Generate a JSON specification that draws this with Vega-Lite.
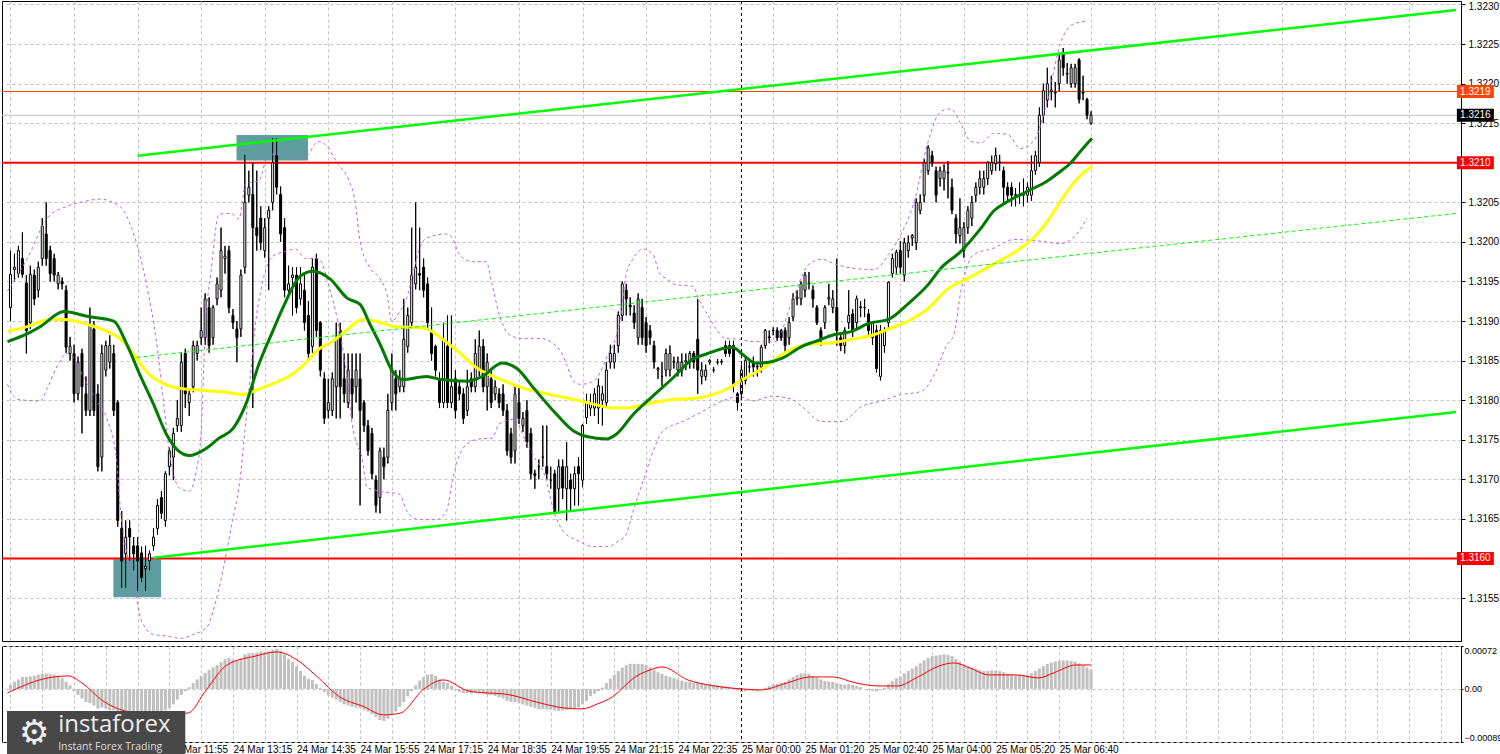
{
"$schema":"https://vega.github.io/schema/vega-lite/v6.json",
"padding":0,
"background":"white",
"spacing":3,
"config":{"view":{"stroke":"#000000","strokeWidth":1},"axis":{"labelFont":"Liberation Sans","labelFontSize":10,"labelColor":"#000000"}},
"datasets":{
"candles":[
{"i":0,"o":1.31917,"h":1.31989,"l":1.319,"c":1.31959,"m":0.00007},
{"i":1,"o":1.31965,"h":1.31985,"l":1.3195,"c":1.31968,"m":0.00012},
{"i":2,"o":1.3196,"h":1.31995,"l":1.31955,"c":1.31989,"m":0.00016},
{"i":3,"o":1.31979,"h":1.32012,"l":1.31955,"c":1.31959,"m":0.0002},
{"i":4,"o":1.31948,"h":1.31958,"l":1.31859,"c":1.31888,"m":0.0002},
{"i":5,"o":1.31898,"h":1.3197,"l":1.3189,"c":1.31959,"m":0.00021},
{"i":6,"o":1.31958,"h":1.31965,"l":1.3192,"c":1.31928,"m":0.00022},
{"i":7,"o":1.31939,"h":1.31975,"l":1.3193,"c":1.31968,"m":0.00024},
{"i":8,"o":1.31979,"h":1.3203,"l":1.3197,"c":1.3202,"m":0.00025},
{"i":9,"o":1.3201,"h":1.3205,"l":1.3197,"c":1.31979,"m":0.00026},
{"i":10,"o":1.31989,"h":1.31995,"l":1.3195,"c":1.3196,"m":0.00025},
{"i":11,"o":1.31979,"h":1.31985,"l":1.3195,"c":1.31958,"m":0.00024},
{"i":12,"o":1.31947,"h":1.31962,"l":1.3194,"c":1.31958,"m":0.00022},
{"i":13,"o":1.3195,"h":1.31955,"l":1.3194,"c":1.31947,"m":0.00018},
{"i":14,"o":1.31939,"h":1.31945,"l":1.3186,"c":1.31867,"m":0.00012},
{"i":15,"o":1.31859,"h":1.3188,"l":1.3185,"c":1.31868,"m":0.00006},
{"i":16,"o":1.31859,"h":1.3187,"l":1.31797,"c":1.31808,"m":-0.00004},
{"i":17,"o":1.31808,"h":1.31855,"l":1.318,"c":1.31848,"m":-0.0001},
{"i":18,"o":1.31859,"h":1.31865,"l":1.31758,"c":1.31817,"m":-0.00016},
{"i":19,"o":1.31808,"h":1.3183,"l":1.3178,"c":1.31787,"m":-0.00022},
{"i":20,"o":1.31787,"h":1.31917,"l":1.3178,"c":1.31896,"m":-0.00024},
{"i":21,"o":1.3189,"h":1.319,"l":1.3178,"c":1.31787,"m":-0.00028},
{"i":22,"o":1.31808,"h":1.3182,"l":1.3171,"c":1.31716,"m":-0.00033},
{"i":23,"o":1.31728,"h":1.3187,"l":1.3171,"c":1.31859,"m":-0.00031},
{"i":24,"o":1.31838,"h":1.31875,"l":1.3183,"c":1.31869,"m":-0.00033},
{"i":25,"o":1.31848,"h":1.31882,"l":1.3184,"c":1.31869,"m":-0.00036},
{"i":26,"o":1.31859,"h":1.3187,"l":1.3178,"c":1.31787,"m":-0.00036},
{"i":27,"o":1.31797,"h":1.318,"l":1.3164,"c":1.31648,"m":-0.0004},
{"i":28,"o":1.31638,"h":1.3166,"l":1.31563,"c":1.31597,"m":-0.00044},
{"i":29,"o":1.31606,"h":1.31648,"l":1.31563,"c":1.31627,"m":-0.00048},
{"i":30,"o":1.31638,"h":1.31648,"l":1.31597,"c":1.31627,"m":-0.0005},
{"i":31,"o":1.31616,"h":1.31627,"l":1.31585,"c":1.31606,"m":-0.00052},
{"i":32,"o":1.31616,"h":1.31627,"l":1.31559,"c":1.31597,"m":-0.00052},
{"i":33,"o":1.31607,"h":1.31615,"l":1.3157,"c":1.31576,"m":-0.00053},
{"i":34,"o":1.31587,"h":1.31616,"l":1.31559,"c":1.3159,"m":-0.00052},
{"i":35,"o":1.31597,"h":1.3161,"l":1.31585,"c":1.31606,"m":-0.0005},
{"i":36,"o":1.31616,"h":1.31638,"l":1.3161,"c":1.31627,"m":-0.00047},
{"i":37,"o":1.31638,"h":1.31675,"l":1.3163,"c":1.31667,"m":-0.00044},
{"i":38,"o":1.31677,"h":1.31685,"l":1.3165,"c":1.31657,"m":-0.0004},
{"i":39,"o":1.31648,"h":1.3171,"l":1.3164,"c":1.31707,"m":-0.00036},
{"i":40,"o":1.31716,"h":1.3174,"l":1.31705,"c":1.31736,"m":-0.00032},
{"i":41,"o":1.31728,"h":1.31765,"l":1.31699,"c":1.31758,"m":-0.00026},
{"i":42,"o":1.31768,"h":1.318,"l":1.3176,"c":1.31777,"m":-0.00018},
{"i":43,"o":1.31768,"h":1.3186,"l":1.3176,"c":1.31848,"m":-0.0001},
{"i":44,"o":1.31859,"h":1.31865,"l":1.3179,"c":1.31808,"m":-0.00004},
{"i":45,"o":1.31797,"h":1.31815,"l":1.3178,"c":1.31808,"m":0.00003},
{"i":46,"o":1.31817,"h":1.31875,"l":1.3181,"c":1.31869,"m":0.0001},
{"i":47,"o":1.31859,"h":1.31875,"l":1.3185,"c":1.31869,"m":0.00016},
{"i":48,"o":1.31879,"h":1.31917,"l":1.3187,"c":1.31888,"m":0.00022},
{"i":49,"o":1.31879,"h":1.31935,"l":1.3187,"c":1.31928,"m":0.00027},
{"i":50,"o":1.31917,"h":1.3193,"l":1.3186,"c":1.31869,"m":0.00032},
{"i":51,"o":1.31879,"h":1.3192,"l":1.3187,"c":1.31917,"m":0.00036},
{"i":52,"o":1.31928,"h":1.31955,"l":1.3192,"c":1.31947,"m":0.0004},
{"i":53,"o":1.31939,"h":1.32018,"l":1.3193,"c":1.31989,"m":0.00045},
{"i":54,"o":1.31979,"h":1.31995,"l":1.3196,"c":1.31982,"m":0.0005},
{"i":55,"o":1.31989,"h":1.31995,"l":1.3191,"c":1.31917,"m":0.00052},
{"i":56,"o":1.31907,"h":1.31915,"l":1.3189,"c":1.31898,"m":0.00049},
{"i":57,"o":1.3189,"h":1.319,"l":1.31848,"c":1.31879,"m":0.00047},
{"i":58,"o":1.3189,"h":1.31965,"l":1.3188,"c":1.31958,"m":0.00051},
{"i":59,"o":1.31968,"h":1.3211,"l":1.3196,"c":1.3205,"m":0.00058},
{"i":60,"o":1.32059,"h":1.3209,"l":1.3205,"c":1.32069,"m":0.0006},
{"i":61,"o":1.3206,"h":1.321,"l":1.3179,"c":1.32018,"m":0.0006},
{"i":62,"o":1.32018,"h":1.3209,"l":1.31989,"c":1.32008,"m":0.00061},
{"i":63,"o":1.3203,"h":1.32045,"l":1.3199,"c":1.31999,"m":0.00062},
{"i":64,"o":1.31989,"h":1.3203,"l":1.3198,"c":1.32018,"m":0.00062},
{"i":65,"o":1.3203,"h":1.32045,"l":1.31939,"c":1.3204,"m":0.00063},
{"i":66,"o":1.3205,"h":1.32131,"l":1.3204,"c":1.321,"m":0.00066},
{"i":67,"o":1.32109,"h":1.32131,"l":1.3206,"c":1.32069,"m":0.00067},
{"i":68,"o":1.3206,"h":1.3207,"l":1.32,"c":1.3201,"m":0.00064},
{"i":69,"o":1.32018,"h":1.3203,"l":1.3193,"c":1.31939,"m":0.00058},
{"i":70,"o":1.31939,"h":1.3197,"l":1.3193,"c":1.31947,"m":0.0005},
{"i":71,"o":1.31955,"h":1.31968,"l":1.31907,"c":1.31958,"m":0.00045},
{"i":72,"o":1.31958,"h":1.31968,"l":1.3191,"c":1.31917,"m":0.00038},
{"i":73,"o":1.31928,"h":1.31968,"l":1.3192,"c":1.31947,"m":0.0003},
{"i":74,"o":1.31939,"h":1.31958,"l":1.31888,"c":1.31898,"m":0.00022},
{"i":75,"o":1.31907,"h":1.31925,"l":1.3185,"c":1.31859,"m":0.00017},
{"i":76,"o":1.31868,"h":1.31979,"l":1.3186,"c":1.31968,"m":0.00015},
{"i":77,"o":1.31979,"h":1.31985,"l":1.3188,"c":1.31888,"m":0.00008},
{"i":78,"o":1.31898,"h":1.319,"l":1.3183,"c":1.31838,"m":0.00002},
{"i":79,"o":1.31827,"h":1.31835,"l":1.3177,"c":1.31777,"m":-0.00005},
{"i":80,"o":1.31787,"h":1.31827,"l":1.31777,"c":1.31797,"m":-0.00011},
{"i":81,"o":1.31787,"h":1.31835,"l":1.3178,"c":1.31827,"m":-0.00015},
{"i":82,"o":1.31817,"h":1.31898,"l":1.31777,"c":1.31877,"m":-0.00018},
{"i":83,"o":1.31888,"h":1.31898,"l":1.31777,"c":1.31817,"m":-0.00022},
{"i":84,"o":1.31827,"h":1.31859,"l":1.31797,"c":1.31808,"m":-0.00026},
{"i":85,"o":1.31797,"h":1.31859,"l":1.3179,"c":1.31838,"m":-0.00028},
{"i":86,"o":1.31827,"h":1.31859,"l":1.31777,"c":1.31808,"m":-0.0003},
{"i":87,"o":1.31817,"h":1.31859,"l":1.31797,"c":1.31838,"m":-0.00031},
{"i":88,"o":1.31827,"h":1.31859,"l":1.31667,"c":1.31787,"m":-0.00032},
{"i":89,"o":1.31797,"h":1.318,"l":1.3176,"c":1.31768,"m":-0.00035},
{"i":90,"o":1.31768,"h":1.31775,"l":1.3173,"c":1.31736,"m":-0.00038},
{"i":91,"o":1.31758,"h":1.31765,"l":1.317,"c":1.31707,"m":-0.00042},
{"i":92,"o":1.31699,"h":1.31705,"l":1.31658,"c":1.31667,"m":-0.00047},
{"i":93,"o":1.31677,"h":1.3174,"l":1.31657,"c":1.31736,"m":-0.00052},
{"i":94,"o":1.31728,"h":1.3174,"l":1.317,"c":1.31716,"m":-0.00054},
{"i":95,"o":1.31728,"h":1.31808,"l":1.3172,"c":1.31787,"m":-0.0005},
{"i":96,"o":1.31797,"h":1.31859,"l":1.31787,"c":1.31838,"m":-0.00044},
{"i":97,"o":1.31827,"h":1.31838,"l":1.31787,"c":1.31808,"m":-0.00038},
{"i":98,"o":1.31817,"h":1.31838,"l":1.3181,"c":1.31827,"m":-0.0003},
{"i":99,"o":1.31817,"h":1.31928,"l":1.3181,"c":1.31877,"m":-0.00022},
{"i":100,"o":1.31868,"h":1.31917,"l":1.3186,"c":1.31907,"m":-0.00012},
{"i":101,"o":1.31898,"h":1.32018,"l":1.3189,"c":1.31958,"m":-0.00004},
{"i":102,"o":1.31947,"h":1.3205,"l":1.3194,"c":1.31968,"m":0.00006},
{"i":103,"o":1.3196,"h":1.32018,"l":1.31939,"c":1.31958,"m":0.00014},
{"i":104,"o":1.31968,"h":1.31979,"l":1.3193,"c":1.31939,"m":0.0002},
{"i":105,"o":1.31947,"h":1.31955,"l":1.3189,"c":1.31898,"m":0.00024},
{"i":106,"o":1.31888,"h":1.31917,"l":1.3185,"c":1.31859,"m":0.00025},
{"i":107,"o":1.31868,"h":1.3187,"l":1.3183,"c":1.31838,"m":0.00022},
{"i":108,"o":1.31827,"h":1.31835,"l":1.3179,"c":1.31797,"m":0.00016},
{"i":109,"o":1.31797,"h":1.31898,"l":1.3179,"c":1.31877,"m":0.00012},
{"i":110,"o":1.31868,"h":1.31907,"l":1.3179,"c":1.31797,"m":0.0001},
{"i":111,"o":1.31797,"h":1.31907,"l":1.3179,"c":1.31817,"m":0.00005},
{"i":112,"o":1.31827,"h":1.31838,"l":1.31777,"c":1.31787,"m":-0.00002},
{"i":113,"o":1.31817,"h":1.31825,"l":1.318,"c":1.31808,"m":-0.00005},
{"i":114,"o":1.31808,"h":1.31815,"l":1.3177,"c":1.31777,"m":-0.00007},
{"i":115,"o":1.31787,"h":1.31838,"l":1.3178,"c":1.31817,"m":-0.00007},
{"i":116,"o":1.31827,"h":1.31835,"l":1.3181,"c":1.31817,"m":-0.00008},
{"i":117,"o":1.31817,"h":1.31877,"l":1.3181,"c":1.31859,"m":-0.00006},
{"i":118,"o":1.31838,"h":1.31888,"l":1.3183,"c":1.31868,"m":-0.00005},
{"i":119,"o":1.31868,"h":1.31877,"l":1.3181,"c":1.31817,"m":-0.00008},
{"i":120,"o":1.31817,"h":1.31859,"l":1.31787,"c":1.31848,"m":-0.0001},
{"i":121,"o":1.31827,"h":1.31838,"l":1.3179,"c":1.31797,"m":-0.0001},
{"i":122,"o":1.31808,"h":1.31825,"l":1.318,"c":1.31817,"m":-0.00012},
{"i":123,"o":1.31808,"h":1.31815,"l":1.3179,"c":1.31797,"m":-0.00014},
{"i":124,"o":1.31808,"h":1.3182,"l":1.3178,"c":1.31787,"m":-0.00016},
{"i":125,"o":1.31787,"h":1.31795,"l":1.3173,"c":1.31736,"m":-0.0002},
{"i":126,"o":1.31758,"h":1.31765,"l":1.3172,"c":1.31728,"m":-0.00022},
{"i":127,"o":1.31736,"h":1.31817,"l":1.3172,"c":1.31808,"m":-0.00022},
{"i":128,"o":1.31797,"h":1.31817,"l":1.3177,"c":1.31777,"m":-0.00024},
{"i":129,"o":1.31768,"h":1.31785,"l":1.3176,"c":1.31777,"m":-0.00026},
{"i":130,"o":1.31787,"h":1.318,"l":1.3174,"c":1.31747,"m":-0.00028},
{"i":131,"o":1.31758,"h":1.31765,"l":1.317,"c":1.31707,"m":-0.0003},
{"i":132,"o":1.31707,"h":1.31712,"l":1.31688,"c":1.31705,"m":-0.00032},
{"i":133,"o":1.31716,"h":1.31725,"l":1.317,"c":1.31716,"m":-0.00034},
{"i":134,"o":1.31728,"h":1.31768,"l":1.31716,"c":1.31728,"m":-0.00034},
{"i":135,"o":1.31716,"h":1.31768,"l":1.317,"c":1.31707,"m":-0.00034},
{"i":136,"o":1.31699,"h":1.31716,"l":1.31688,"c":1.31699,"m":-0.00035},
{"i":137,"o":1.31707,"h":1.31712,"l":1.31657,"c":1.31657,"m":-0.00036},
{"i":138,"o":1.31688,"h":1.31725,"l":1.31658,"c":1.31716,"m":-0.00037},
{"i":139,"o":1.31716,"h":1.31725,"l":1.31675,"c":1.31689,"m":-0.00036},
{"i":140,"o":1.31688,"h":1.31747,"l":1.31648,"c":1.31716,"m":-0.00035},
{"i":141,"o":1.31699,"h":1.31707,"l":1.3166,"c":1.31688,"m":-0.00034},
{"i":142,"o":1.31688,"h":1.31716,"l":1.31667,"c":1.31707,"m":-0.00033},
{"i":143,"o":1.31716,"h":1.31728,"l":1.31667,"c":1.31707,"m":-0.00031},
{"i":144,"o":1.31699,"h":1.3177,"l":1.3169,"c":1.31768,"m":-0.00026},
{"i":145,"o":1.31778,"h":1.31808,"l":1.3177,"c":1.31797,"m":-0.0002},
{"i":146,"o":1.3179,"h":1.31808,"l":1.3178,"c":1.31797,"m":-0.00012},
{"i":147,"o":1.3179,"h":1.31815,"l":1.3178,"c":1.31808,"m":-0.00008},
{"i":148,"o":1.3179,"h":1.31827,"l":1.3177,"c":1.31818,"m":-0.00004},
{"i":149,"o":1.318,"h":1.31818,"l":1.31768,"c":1.31808,"m":0.00002},
{"i":150,"o":1.31797,"h":1.31848,"l":1.3179,"c":1.31838,"m":0.0001},
{"i":151,"o":1.31848,"h":1.3187,"l":1.3184,"c":1.31859,"m":0.00017},
{"i":152,"o":1.31848,"h":1.3187,"l":1.3184,"c":1.31859,"m":0.00024},
{"i":153,"o":1.31869,"h":1.31912,"l":1.3186,"c":1.31907,"m":0.0003},
{"i":154,"o":1.31907,"h":1.3195,"l":1.319,"c":1.31947,"m":0.00036},
{"i":155,"o":1.31939,"h":1.31947,"l":1.31907,"c":1.31928,"m":0.0004},
{"i":156,"o":1.3192,"h":1.3193,"l":1.31907,"c":1.31918,"m":0.00042},
{"i":157,"o":1.3191,"h":1.3192,"l":1.3189,"c":1.31898,"m":0.00042},
{"i":158,"o":1.31879,"h":1.31935,"l":1.3187,"c":1.31928,"m":0.00042},
{"i":159,"o":1.31917,"h":1.31928,"l":1.3187,"c":1.31879,"m":0.00042},
{"i":160,"o":1.31898,"h":1.31905,"l":1.3186,"c":1.31869,"m":0.0004},
{"i":161,"o":1.31888,"h":1.31895,"l":1.3187,"c":1.31879,"m":0.00036},
{"i":162,"o":1.31869,"h":1.31875,"l":1.3184,"c":1.31848,"m":0.00032},
{"i":163,"o":1.31838,"h":1.31842,"l":1.31827,"c":1.3184,"m":0.00028},
{"i":164,"o":1.3183,"h":1.31848,"l":1.31818,"c":1.3183,"m":0.00025},
{"i":165,"o":1.31838,"h":1.31865,"l":1.3183,"c":1.31859,"m":0.00022},
{"i":166,"o":1.31838,"h":1.31869,"l":1.3183,"c":1.31859,"m":0.0002},
{"i":167,"o":1.31848,"h":1.31855,"l":1.3184,"c":1.31849,"m":0.00018},
{"i":168,"o":1.31838,"h":1.31855,"l":1.3183,"c":1.31848,"m":0.00016},
{"i":169,"o":1.31838,"h":1.31859,"l":1.3183,"c":1.31848,"m":0.00014},
{"i":170,"o":1.31848,"h":1.31859,"l":1.31838,"c":1.3185,"m":0.00012},
{"i":171,"o":1.31848,"h":1.31862,"l":1.3184,"c":1.31859,"m":0.00012},
{"i":172,"o":1.31859,"h":1.31862,"l":1.3184,"c":1.31848,"m":0.0001},
{"i":173,"o":1.31877,"h":1.31928,"l":1.31808,"c":1.31838,"m":0.0001},
{"i":174,"o":1.3183,"h":1.31848,"l":1.3182,"c":1.31838,"m":0.00009},
{"i":175,"o":1.3183,"h":1.31845,"l":1.31825,"c":1.31838,"m":0.00008},
{"i":176,"o":1.31848,"h":1.31852,"l":1.31845,"c":1.3185,"m":0.00007},
{"i":177,"o":1.31838,"h":1.31842,"l":1.31835,"c":1.31838,"m":0.00006},
{"i":178,"o":1.31848,"h":1.31852,"l":1.31845,"c":1.31848,"m":0.00006},
{"i":179,"o":1.31848,"h":1.31852,"l":1.31845,"c":1.31849,"m":0.00005},
{"i":180,"o":1.31869,"h":1.31875,"l":1.31855,"c":1.31859,"m":0.00004},
{"i":181,"o":1.31869,"h":1.31875,"l":1.31855,"c":1.31859,"m":0.00003},
{"i":182,"o":1.31869,"h":1.31875,"l":1.3181,"c":1.31818,"m":0.00002},
{"i":183,"o":1.31808,"h":1.3181,"l":1.31787,"c":1.31797,"m":-0.00003},
{"i":184,"o":1.31808,"h":1.31845,"l":1.318,"c":1.31838,"m":-0.00005},
{"i":185,"o":1.31825,"h":1.31855,"l":1.3182,"c":1.3185,"m":-0.00004},
{"i":186,"o":1.31842,"h":1.3185,"l":1.31835,"c":1.31842,"m":-0.00003},
{"i":187,"o":1.31848,"h":1.31855,"l":1.3183,"c":1.31842,"m":-0.00003},
{"i":188,"o":1.31842,"h":1.31848,"l":1.3183,"c":1.31843,"m":-0.00004},
{"i":189,"o":1.31842,"h":1.3187,"l":1.31835,"c":1.31867,"m":-0.00002},
{"i":190,"o":1.31869,"h":1.3189,"l":1.31865,"c":1.31888,"m":0.00002},
{"i":191,"o":1.31879,"h":1.31888,"l":1.31872,"c":1.3188,"m":0.00005},
{"i":192,"o":1.31888,"h":1.31892,"l":1.31882,"c":1.31888,"m":0.00007},
{"i":193,"o":1.31888,"h":1.31892,"l":1.31875,"c":1.31879,"m":0.00009},
{"i":194,"o":1.31888,"h":1.3189,"l":1.31875,"c":1.31879,"m":0.0001},
{"i":195,"o":1.31888,"h":1.31892,"l":1.3186,"c":1.31869,"m":0.00012},
{"i":196,"o":1.31879,"h":1.31905,"l":1.3187,"c":1.31898,"m":0.00016},
{"i":197,"o":1.31905,"h":1.31935,"l":1.319,"c":1.31928,"m":0.0002},
{"i":198,"o":1.31928,"h":1.31939,"l":1.3192,"c":1.3193,"m":0.00023},
{"i":199,"o":1.31928,"h":1.3195,"l":1.3192,"c":1.31947,"m":0.00026},
{"i":200,"o":1.31939,"h":1.31962,"l":1.3193,"c":1.31958,"m":0.00026},
{"i":201,"o":1.31947,"h":1.31962,"l":1.3194,"c":1.31948,"m":0.00025},
{"i":202,"o":1.31939,"h":1.31945,"l":1.31917,"c":1.31928,"m":0.00022},
{"i":203,"o":1.31917,"h":1.3192,"l":1.31895,"c":1.31898,"m":0.00019},
{"i":204,"o":1.31888,"h":1.31892,"l":1.31869,"c":1.31879,"m":0.00016},
{"i":205,"o":1.31898,"h":1.3192,"l":1.3189,"c":1.31917,"m":0.00013},
{"i":206,"o":1.31928,"h":1.31947,"l":1.3192,"c":1.3193,"m":0.00012},
{"i":207,"o":1.31917,"h":1.31939,"l":1.3191,"c":1.31928,"m":0.00012},
{"i":208,"o":1.31917,"h":1.31979,"l":1.31869,"c":1.31888,"m":0.0001},
{"i":209,"o":1.31879,"h":1.31885,"l":1.31862,"c":1.31869,"m":0.00008},
{"i":210,"o":1.31869,"h":1.31892,"l":1.31859,"c":1.31888,"m":0.00007},
{"i":211,"o":1.31898,"h":1.31939,"l":1.3189,"c":1.31907,"m":0.00008},
{"i":212,"o":1.31909,"h":1.31915,"l":1.3188,"c":1.31888,"m":0.00007},
{"i":213,"o":1.31898,"h":1.31932,"l":1.3189,"c":1.31928,"m":0.00005},
{"i":214,"o":1.31917,"h":1.31925,"l":1.31905,"c":1.31918,"m":0.00003},
{"i":215,"o":1.31917,"h":1.31928,"l":1.31905,"c":1.31917,"m":0.0},
{"i":216,"o":1.31909,"h":1.31915,"l":1.3188,"c":1.31888,"m":-0.00002},
{"i":217,"o":1.31879,"h":1.319,"l":1.3187,"c":1.31898,"m":-0.00003},
{"i":218,"o":1.31888,"h":1.31895,"l":1.31835,"c":1.3184,"m":-0.00004},
{"i":219,"o":1.3183,"h":1.31895,"l":1.31825,"c":1.31888,"m":-0.00002},
{"i":220,"o":1.31869,"h":1.31892,"l":1.3186,"c":1.31888,"m":0.00002},
{"i":221,"o":1.31898,"h":1.3195,"l":1.3189,"c":1.31949,"m":0.00008},
{"i":222,"o":1.3196,"h":1.31985,"l":1.31955,"c":1.31979,"m":0.00013},
{"i":223,"o":1.31968,"h":1.3199,"l":1.3196,"c":1.31987,"m":0.00018},
{"i":224,"o":1.31989,"h":1.32001,"l":1.3196,"c":1.31968,"m":0.00021},
{"i":225,"o":1.31958,"h":1.32005,"l":1.3195,"c":1.31999,"m":0.00026},
{"i":226,"o":1.31989,"h":1.32008,"l":1.3198,"c":1.31999,"m":0.0003},
{"i":227,"o":1.32005,"h":1.3201,"l":1.31995,"c":1.32008,"m":0.00034},
{"i":228,"o":1.31999,"h":1.32055,"l":1.3199,"c":1.3205,"m":0.00038},
{"i":229,"o":1.3204,"h":1.3206,"l":1.32035,"c":1.3205,"m":0.00043},
{"i":230,"o":1.32059,"h":1.32105,"l":1.3205,"c":1.321,"m":0.00048},
{"i":231,"o":1.3209,"h":1.32122,"l":1.32085,"c":1.32119,"m":0.00052},
{"i":232,"o":1.32109,"h":1.32115,"l":1.32095,"c":1.321,"m":0.00055},
{"i":233,"o":1.3209,"h":1.32095,"l":1.3205,"c":1.32059,"m":0.00056},
{"i":234,"o":1.3208,"h":1.32095,"l":1.3207,"c":1.3209,"m":0.00057},
{"i":235,"o":1.3208,"h":1.32098,"l":1.32065,"c":1.3209,"m":0.00058},
{"i":236,"o":1.32087,"h":1.32102,"l":1.32055,"c":1.32088,"m":0.00057},
{"i":237,"o":1.32069,"h":1.3208,"l":1.32035,"c":1.3204,"m":0.00055},
{"i":238,"o":1.3203,"h":1.32035,"l":1.31998,"c":1.3201,"m":0.0005},
{"i":239,"o":1.32008,"h":1.32055,"l":1.31998,"c":1.32018,"m":0.00046},
{"i":240,"o":1.31989,"h":1.32025,"l":1.3198,"c":1.32018,"m":0.00042},
{"i":241,"o":1.32018,"h":1.32045,"l":1.3201,"c":1.3204,"m":0.00038},
{"i":242,"o":1.3203,"h":1.32058,"l":1.3202,"c":1.3205,"m":0.00036},
{"i":243,"o":1.32059,"h":1.32075,"l":1.3205,"c":1.32069,"m":0.00034},
{"i":244,"o":1.32069,"h":1.3209,"l":1.3206,"c":1.3208,"m":0.00032},
{"i":245,"o":1.32069,"h":1.3209,"l":1.3206,"c":1.3208,"m":0.0003},
{"i":246,"o":1.3208,"h":1.32102,"l":1.32072,"c":1.321,"m":0.0003},
{"i":247,"o":1.3209,"h":1.32109,"l":1.32085,"c":1.321,"m":0.00031},
{"i":248,"o":1.32099,"h":1.32119,"l":1.3209,"c":1.32109,"m":0.00031},
{"i":249,"o":1.321,"h":1.3211,"l":1.3209,"c":1.32101,"m":0.0003},
{"i":250,"o":1.3209,"h":1.32095,"l":1.3205,"c":1.32069,"m":0.00028},
{"i":251,"o":1.32069,"h":1.32075,"l":1.3205,"c":1.32059,"m":0.00026},
{"i":252,"o":1.32069,"h":1.32075,"l":1.32045,"c":1.32059,"m":0.00025},
{"i":253,"o":1.32059,"h":1.32068,"l":1.32045,"c":1.3206,"m":0.00024},
{"i":254,"o":1.32059,"h":1.32075,"l":1.32048,"c":1.32059,"m":0.00024},
{"i":255,"o":1.32059,"h":1.3208,"l":1.32045,"c":1.3206,"m":0.00023},
{"i":256,"o":1.32059,"h":1.32075,"l":1.3205,"c":1.32069,"m":0.00024},
{"i":257,"o":1.32059,"h":1.32109,"l":1.32052,"c":1.3209,"m":0.00026},
{"i":258,"o":1.3209,"h":1.32115,"l":1.32085,"c":1.32109,"m":0.0003},
{"i":259,"o":1.321,"h":1.3217,"l":1.32095,"c":1.3216,"m":0.00034},
{"i":260,"o":1.3216,"h":1.322,"l":1.3215,"c":1.32191,"m":0.00038},
{"i":261,"o":1.32179,"h":1.3222,"l":1.3217,"c":1.322,"m":0.00042},
{"i":262,"o":1.3219,"h":1.3221,"l":1.32179,"c":1.32192,"m":0.00044},
{"i":263,"o":1.32188,"h":1.32202,"l":1.3217,"c":1.32189,"m":0.00046},
{"i":264,"o":1.322,"h":1.32239,"l":1.3219,"c":1.3223,"m":0.00047},
{"i":265,"o":1.32239,"h":1.32245,"l":1.3221,"c":1.3222,"m":0.00048},
{"i":266,"o":1.32212,"h":1.32226,"l":1.322,"c":1.32213,"m":0.00048},
{"i":267,"o":1.322,"h":1.32225,"l":1.32195,"c":1.3222,"m":0.00047},
{"i":268,"o":1.322,"h":1.32225,"l":1.32195,"c":1.3222,"m":0.00046},
{"i":269,"o":1.3223,"h":1.32232,"l":1.32175,"c":1.3218,"m":0.00043},
{"i":270,"o":1.32189,"h":1.3221,"l":1.32179,"c":1.32188,"m":0.0004},
{"i":271,"o":1.3218,"h":1.32182,"l":1.32155,"c":1.3216,"m":0.00036},
{"i":272,"o":1.3215,"h":1.32165,"l":1.32148,"c":1.3216,"m":0.00033}
],
"boxes":[{"i1":56.9,"i2":74.9,"p1":1.32135,"p2":1.32103},{"i1":25.9,"i2":37.9,"p1":1.31599,"p2":1.31551}],
"levR":[{"p":1.321},{"p":1.316}],
"levA":[{"p":1.3219}],
"levB":[{"p":1.3216}],
"tags":[{"p":1.3219,"k":"ask","t":"1.3219"},{"p":1.3216,"k":"bid","t":"1.3216"},{"p":1.321,"k":"r","t":"1.3210"},{"p":1.316,"k":"r","t":"1.3160"}],
"chanS":[{"ln":"top","i":32,"p":1.32109},{"ln":"top","i":363.875,"p":1.32293},{"ln":"bot","i":36,"p":1.31601},{"ln":"bot","i":363.875,"p":1.31785}],
"chanM":[{"i":31.75,"p":1.31854},{"i":363.875,"p":1.32036}],
"sep":[{"i":184}],
"maG":[{"i":-0.75,"p":1.31874},{"i":4.25,"p":1.31884},{"i":7.5,"p":1.31893},{"i":13.5,"p":1.31912},{"i":19.25,"p":1.31906},{"i":26,"p":1.319},{"i":29.25,"p":1.31871},{"i":32.5,"p":1.31833},{"i":36,"p":1.31795},{"i":39.25,"p":1.31757},{"i":42.5,"p":1.31735},{"i":45,"p":1.3173},{"i":49.25,"p":1.31739},{"i":52.5,"p":1.31752},{"i":56,"p":1.31764},{"i":59.25,"p":1.31795},{"i":62.5,"p":1.31845},{"i":66,"p":1.31887},{"i":68.5,"p":1.31916},{"i":73,"p":1.31957},{"i":76.25,"p":1.31963},{"i":80.5,"p":1.31953},{"i":84.75,"p":1.31929},{"i":88,"p":1.31921},{"i":90.5,"p":1.31896},{"i":93,"p":1.31871},{"i":96.25,"p":1.31836},{"i":98.75,"p":1.31826},{"i":104.75,"p":1.3183},{"i":108.5,"p":1.31826},{"i":115,"p":1.31824},{"i":118.75,"p":1.3183},{"i":123.75,"p":1.31847},{"i":127.5,"p":1.3184},{"i":131.75,"p":1.31815},{"i":136.75,"p":1.31786},{"i":141.75,"p":1.31761},{"i":145,"p":1.31754},{"i":150,"p":1.31751},{"i":152.5,"p":1.31757},{"i":156.75,"p":1.31782},{"i":161,"p":1.31802},{"i":166.75,"p":1.31828},{"i":171.75,"p":1.31852},{"i":175,"p":1.31858},{"i":180,"p":1.31866},{"i":181.75,"p":1.31867},{"i":184.25,"p":1.31858},{"i":187.5,"p":1.31847},{"i":189.25,"p":1.31847},{"i":194.25,"p":1.31853},{"i":199.25,"p":1.31868},{"i":202.5,"p":1.31874},{"i":207.5,"p":1.31883},{"i":211.75,"p":1.31887},{"i":216,"p":1.31897},{"i":221,"p":1.31902},{"i":226,"p":1.31922},{"i":231,"p":1.31946},{"i":234.25,"p":1.31967},{"i":239.25,"p":1.31988},{"i":244.25,"p":1.32017},{"i":247.5,"p":1.32039},{"i":251,"p":1.32051},{"i":256,"p":1.32064},{"i":261,"p":1.32077},{"i":264.25,"p":1.32089},{"i":266.75,"p":1.32099},{"i":269.25,"p":1.32114},{"i":272.25,"p":1.32131}],
"maY":[{"i":-0.75,"p":1.31887},{"i":4.25,"p":1.31893},{"i":10,"p":1.31902},{"i":13.5,"p":1.31902},{"i":19.25,"p":1.31896},{"i":24.25,"p":1.31887},{"i":27.5,"p":1.31878},{"i":31,"p":1.31858},{"i":34.25,"p":1.31836},{"i":38.5,"p":1.31821},{"i":42.5,"p":1.31815},{"i":49.25,"p":1.31812},{"i":54.25,"p":1.3181},{"i":58.5,"p":1.31807},{"i":62.5,"p":1.31814},{"i":66,"p":1.31821},{"i":71,"p":1.31833},{"i":74.25,"p":1.31847},{"i":77.5,"p":1.31864},{"i":81,"p":1.31874},{"i":84.25,"p":1.31887},{"i":88.5,"p":1.31902},{"i":91.75,"p":1.319},{"i":96.75,"p":1.31893},{"i":104.25,"p":1.31891},{"i":108.5,"p":1.31878},{"i":113.5,"p":1.31858},{"i":116.75,"p":1.31843},{"i":123.5,"p":1.31826},{"i":129.25,"p":1.31815},{"i":136,"p":1.31807},{"i":141.75,"p":1.31801},{"i":146.75,"p":1.31795},{"i":151.75,"p":1.3179},{"i":155,"p":1.3179},{"i":160,"p":1.31795},{"i":166.75,"p":1.31801},{"i":171.75,"p":1.31802},{"i":176.75,"p":1.31807},{"i":181.75,"p":1.31818},{"i":184.25,"p":1.31826},{"i":189.25,"p":1.3184},{"i":194.25,"p":1.31858},{"i":201,"p":1.31871},{"i":206,"p":1.31872},{"i":211.75,"p":1.31877},{"i":217.5,"p":1.31883},{"i":221,"p":1.3189},{"i":226,"p":1.319},{"i":231,"p":1.31916},{"i":236,"p":1.31941},{"i":241,"p":1.31954},{"i":247.5,"p":1.31972},{"i":254.25,"p":1.31992},{"i":257.5,"p":1.32005},{"i":261,"p":1.32026},{"i":264.25,"p":1.32051},{"i":267.5,"p":1.32074},{"i":272.25,"p":1.32096}],
"bb":[
{"b":"u","i":-0.75,"p":1.31938},{"b":"u","i":4.25,"p":1.31979},{"b":"u","i":9.25,"p":1.3203},{"b":"u","i":14.25,"p":1.32045},{"b":"u","i":18.5,"p":1.32051},{"b":"u","i":22.5,"p":1.32054},{"b":"u","i":27.5,"p":1.32045},{"b":"u","i":31,"p":1.3201},{"b":"u","i":34.25,"p":1.31946},{"b":"u","i":36.75,"p":1.31874},{"b":"u","i":38.5,"p":1.31799},{"b":"u","i":40,"p":1.31735},{"b":"u","i":42.5,"p":1.31689},{"b":"u","i":45,"p":1.31685},{"b":"u","i":46.75,"p":1.3171},{"b":"u","i":48,"p":1.31761},{"b":"u","i":49,"p":1.31887},{"b":"u","i":50.5,"p":1.31963},{"b":"u","i":52.5,"p":1.32035},{"b":"u","i":55.5,"p":1.32036},{"b":"u","i":57.5,"p":1.32029},{"b":"u","i":59.25,"p":1.32074},{"b":"u","i":62.5,"p":1.32077},{"b":"u","i":65,"p":1.32111},{"b":"u","i":70.5,"p":1.32108},{"b":"u","i":74.25,"p":1.32108},{"b":"u","i":77.5,"p":1.32127},{"b":"u","i":79.25,"p":1.32123},{"b":"u","i":82.5,"p":1.32098},{"b":"u","i":85,"p":1.3208},{"b":"u","i":86.75,"p":1.32051},{"b":"u","i":88,"p":1.32001},{"b":"u","i":90.5,"p":1.31967},{"b":"u","i":93,"p":1.31954},{"b":"u","i":94.75,"p":1.31934},{"b":"u","i":96,"p":1.319},{"b":"u","i":98,"p":1.31912},{"b":"u","i":99.75,"p":1.31929},{"b":"u","i":101.25,"p":1.31959},{"b":"u","i":103,"p":1.31992},{"b":"u","i":104.75,"p":1.32005},{"b":"u","i":109.75,"p":1.3201},{"b":"u","i":111.25,"p":1.32005},{"b":"u","i":113,"p":1.31984},{"b":"u","i":116.25,"p":1.31975},{"b":"u","i":119.75,"p":1.31975},{"b":"u","i":121.25,"p":1.31946},{"b":"u","i":123,"p":1.31909},{"b":"u","i":125.5,"p":1.31883},{"b":"u","i":128.75,"p":1.31878},{"b":"u","i":133.5,"p":1.31878},{"b":"u","i":138.5,"p":1.31862},{"b":"u","i":140,"p":1.31845},{"b":"u","i":141.75,"p":1.31824},{"b":"u","i":143.5,"p":1.3182},{"b":"u","i":146.75,"p":1.31824},{"b":"u","i":150,"p":1.31853},{"b":"u","i":153.5,"p":1.31903},{"b":"u","i":155,"p":1.31959},{"b":"u","i":156.75,"p":1.31979},{"b":"u","i":159.25,"p":1.31991},{"b":"u","i":161.75,"p":1.31984},{"b":"u","i":163.5,"p":1.31959},{"b":"u","i":165,"p":1.31954},{"b":"u","i":167.5,"p":1.31946},{"b":"u","i":171.75,"p":1.31944},{"b":"u","i":173.5,"p":1.31925},{"b":"u","i":175,"p":1.31912},{"b":"u","i":177.5,"p":1.31891},{"b":"u","i":180,"p":1.31878},{"b":"u","i":183.5,"p":1.31877},{"b":"u","i":186.75,"p":1.31874},{"b":"u","i":192.5,"p":1.31874},{"b":"u","i":196.75,"p":1.31925},{"b":"u","i":201,"p":1.31972},{"b":"u","i":204.25,"p":1.31978},{"b":"u","i":207.5,"p":1.31972},{"b":"u","i":211.75,"p":1.31967},{"b":"u","i":217.5,"p":1.31965},{"b":"u","i":221,"p":1.31984},{"b":"u","i":224.25,"p":1.3201},{"b":"u","i":227.5,"p":1.32051},{"b":"u","i":231,"p":1.32127},{"b":"u","i":234.25,"p":1.32165},{"b":"u","i":236.75,"p":1.32168},{"b":"u","i":239.25,"p":1.32149},{"b":"u","i":241.75,"p":1.32127},{"b":"u","i":244.25,"p":1.32125},{"b":"u","i":247.5,"p":1.32137},{"b":"u","i":251,"p":1.32136},{"b":"u","i":254.25,"p":1.32118},{"b":"u","i":257.5,"p":1.32127},{"b":"u","i":261,"p":1.32178},{"b":"u","i":264.25,"p":1.3225},{"b":"u","i":267.5,"p":1.32275},{"b":"u","i":271,"p":1.32279},
{"b":"l","i":-0.75,"p":1.3182},{"b":"l","i":1.75,"p":1.31801},{"b":"l","i":7.5,"p":1.31799},{"b":"l","i":9.25,"p":1.31815},{"b":"l","i":11.75,"p":1.31843},{"b":"l","i":14.25,"p":1.31859},{"b":"l","i":16,"p":1.31853},{"b":"l","i":18.5,"p":1.31828},{"b":"l","i":21.75,"p":1.31799},{"b":"l","i":24.25,"p":1.31777},{"b":"l","i":26.75,"p":1.31723},{"b":"l","i":27.5,"p":1.31672},{"b":"l","i":31,"p":1.31571},{"b":"l","i":33,"p":1.31521},{"b":"l","i":36,"p":1.31504},{"b":"l","i":39.25,"p":1.31502},{"b":"l","i":43,"p":1.31499},{"b":"l","i":46,"p":1.31504},{"b":"l","i":49.25,"p":1.31512},{"b":"l","i":52.5,"p":1.31562},{"b":"l","i":56,"p":1.31651},{"b":"l","i":57.5,"p":1.31689},{"b":"l","i":59.25,"p":1.31773},{"b":"l","i":60.5,"p":1.31837},{"b":"l","i":61.75,"p":1.319},{"b":"l","i":63,"p":1.31938},{"b":"l","i":66,"p":1.31982},{"b":"l","i":69.25,"p":1.31988},{"b":"l","i":71.75,"p":1.31991},{"b":"l","i":74.25,"p":1.31979},{"b":"l","i":77.5,"p":1.31979},{"b":"l","i":80.5,"p":1.31938},{"b":"l","i":82.25,"p":1.31903},{"b":"l","i":83.75,"p":1.31862},{"b":"l","i":84.75,"p":1.31828},{"b":"l","i":86,"p":1.3177},{"b":"l","i":87.25,"p":1.31744},{"b":"l","i":88.5,"p":1.31727},{"b":"l","i":89.75,"p":1.3169},{"b":"l","i":93,"p":1.31685},{"b":"l","i":98,"p":1.31681},{"b":"l","i":99.75,"p":1.3166},{"b":"l","i":103,"p":1.31649},{"b":"l","i":107.25,"p":1.31649},{"b":"l","i":109.75,"p":1.3166},{"b":"l","i":111.25,"p":1.31698},{"b":"l","i":112.25,"p":1.31719},{"b":"l","i":114.75,"p":1.31744},{"b":"l","i":118,"p":1.31751},{"b":"l","i":121.25,"p":1.31752},{"b":"l","i":123,"p":1.3177},{"b":"l","i":126.75,"p":1.31776},{"b":"l","i":129.75,"p":1.31748},{"b":"l","i":131.75,"p":1.31729},{"b":"l","i":134.75,"p":1.31701},{"b":"l","i":136.75,"p":1.3166},{"b":"l","i":139.25,"p":1.31634},{"b":"l","i":143,"p":1.31622},{"b":"l","i":146.75,"p":1.31615},{"b":"l","i":150.5,"p":1.31615},{"b":"l","i":153,"p":1.31622},{"b":"l","i":154.75,"p":1.31628},{"b":"l","i":156.75,"p":1.3166},{"b":"l","i":159.25,"p":1.31698},{"b":"l","i":161.75,"p":1.31735},{"b":"l","i":164.25,"p":1.31761},{"b":"l","i":169.25,"p":1.31773},{"b":"l","i":174.25,"p":1.31786},{"b":"l","i":179.25,"p":1.31799},{"b":"l","i":183.5,"p":1.31805},{"b":"l","i":186.75,"p":1.31799},{"b":"l","i":191.75,"p":1.31805},{"b":"l","i":196.75,"p":1.31801},{"b":"l","i":199.25,"p":1.31792},{"b":"l","i":204.25,"p":1.31773},{"b":"l","i":209.25,"p":1.31773},{"b":"l","i":214.25,"p":1.31792},{"b":"l","i":219.25,"p":1.31799},{"b":"l","i":224.25,"p":1.31807},{"b":"l","i":229.25,"p":1.31811},{"b":"l","i":233,"p":1.31837},{"b":"l","i":235.5,"p":1.31868},{"b":"l","i":237.5,"p":1.31883},{"b":"l","i":239.25,"p":1.31938},{"b":"l","i":242.5,"p":1.31984},{"b":"l","i":247.5,"p":1.31992},{"b":"l","i":252.5,"p":1.32003},{"b":"l","i":259.25,"p":1.32001},{"b":"l","i":264.25,"p":1.31998},{"b":"l","i":267.5,"p":1.32005},{"b":"l","i":271,"p":1.3203}
],
"sig":[{"i":-0.75,"s":-0.000067},{"i":8.25,"s":0.000168},{"i":14.5,"s":0.000218},{"i":18,"s":0.000101},{"i":23.25,"s":-0.000201},{"i":28.75,"s":-0.000369},{"i":36.75,"s":-0.00044},{"i":44.75,"s":-0.000402},{"i":49.25,"s":-0.000017},{"i":54.5,"s":0.000402},{"i":61.75,"s":0.000553},{"i":67,"s":0.00062},{"i":72.5,"s":0.00047},{"i":77,"s":0.000218},{"i":83.25,"s":-0.000151},{"i":88.5,"s":-0.000285},{"i":94,"s":-0.000436},{"i":98.25,"s":-0.000402},{"i":103.75,"s":-0.000017},{"i":109,"s":0.000151},{"i":115.25,"s":-0.000034},{"i":119.75,"s":-0.000067},{"i":124.25,"s":-0.000084},{"i":133.25,"s":-0.000235},{"i":139.25,"s":-0.000319},{"i":143.75,"s":-0.000335},{"i":147.75,"s":-0.000252},{"i":151.5,"s":-0.000134},{"i":157.25,"s":0.000201},{"i":161,"s":0.000319},{"i":164,"s":0.000369},{"i":170.5,"s":0.000151},{"i":177.25,"s":0.00005},{"i":184,"s":0},{"i":188.75,"s":-0.000017},{"i":195.5,"s":0.000101},{"i":201.25,"s":0.000201},{"i":207,"s":0.000201},{"i":212.75,"s":0.000101},{"i":218.5,"s":0.00005},{"i":223.25,"s":0.00005},{"i":228,"s":0.000184},{"i":233.75,"s":0.000386},{"i":237.5,"s":0.000436},{"i":241.5,"s":0.000352},{"i":246.25,"s":0.000235},{"i":253,"s":0.000235},{"i":258.75,"s":0.000184},{"i":262.5,"s":0.000268},{"i":268.25,"s":0.000402},{"i":272,"s":0.000402}]
},
"vconcat":[
{
"width":1459,"height":640,
"layer":[
{"data":{"name":"candles"},"mark":{"type":"rule","color":"#000000","strokeWidth":1},
 "encoding":{
  "x":{"field":"i","type":"quantitative","title":null,"scale":{"domain":[-0.875,363.875],"nice":false,"zero":false},"axis":{"values":[0,8,16,24,32,40,48,56,64,72,80,88,96,104,112,120,128,136,144,152,160,168,176,184,192,200,208,216,224,232,240,248,256,264,272,280,288,296,304,312,320,328,336,344,352,360],"grid":true,"gridColor":"#c0c0c0","gridDash":[3,3],"labels":false,"ticks":false,"domain":false,"minExtent":0,"maxExtent":0,"title":null}},
  "y":{"field":"l","type":"quantitative","title":null,"scale":{"domain":[1.314957,1.323044],"nice":false,"zero":false},"axis":{"orient":"right","values":[1.3155,1.3165,1.317,1.3175,1.318,1.3185,1.319,1.3195,1.32,1.3205,1.3215,1.322,1.3225,1.323],"format":".4f","grid":true,"gridColor":"#c0c0c0","gridDash":[3,3],"tickSize":4,"tickColor":"#000000","domainColor":"#000000","labelPadding":3,"labelFlush":5,"labelFlushOffset":3,"title":null}},
  "y2":{"field":"h"}}},
{"data":{"name":"boxes"},"mark":{"type":"rect","color":"#5f9ea0"},
 "encoding":{
  "x":{"field":"i1","type":"quantitative","title":null},
  "x2":{"field":"i2"},
  "y":{"field":"p1","type":"quantitative","title":null},
  "y2":{"field":"p2"}}},
{"data":{"name":"levR"},"mark":{"type":"rule","color":"#ff0000","strokeWidth":2},
 "encoding":{"y":{"field":"p","type":"quantitative","title":null}}},
{"data":{"name":"levA"},"mark":{"type":"rule","color":"#ff4500","strokeWidth":1},
 "encoding":{"y":{"field":"p","type":"quantitative","title":null}}},
{"data":{"name":"levB"},"mark":{"type":"rule","color":"#c0c0c0","strokeWidth":1},
 "encoding":{"y":{"field":"p","type":"quantitative","title":null}}},
{"data":{"name":"candles"},"mark":{"type":"rule","color":"#000000","strokeWidth":1},
 "encoding":{
  "x":{"field":"i","type":"quantitative","title":null},
  "y":{"field":"l","type":"quantitative","title":null},
  "y2":{"field":"h"}}},
{"data":{"name":"candles"},"mark":{"type":"bar","size":2,"stroke":"#000000","strokeWidth":1},
 "encoding":{
  "x":{"field":"i","type":"quantitative","title":null},
  "y":{"field":"o","type":"quantitative","title":null},
  "y2":{"field":"c"},
  "fill":{"condition":{"test":"datum.c >= datum.o","value":"#ffffff"},"value":"#000000"}}},
{"data":{"name":"bb"},"mark":{"type":"line","color":"#c060e8","strokeWidth":1,"strokeDash":[3,3],"interpolate":"monotone","clip":true},
 "encoding":{
  "x":{"field":"i","type":"quantitative","title":null},
  "y":{"field":"p","type":"quantitative","title":null},
  "detail":{"field":"b","type":"nominal"}}},
{"data":{"name":"maY"},"mark":{"type":"line","color":"#ffff00","strokeWidth":3,"interpolate":"monotone","clip":true},
 "encoding":{
  "x":{"field":"i","type":"quantitative","title":null},
  "y":{"field":"p","type":"quantitative","title":null}}},
{"data":{"name":"maG"},"mark":{"type":"line","color":"#007a00","strokeWidth":3,"interpolate":"monotone","clip":true},
 "encoding":{
  "x":{"field":"i","type":"quantitative","title":null},
  "y":{"field":"p","type":"quantitative","title":null}}},
{"data":{"name":"chanS"},"mark":{"type":"line","color":"#00ff00","strokeWidth":2.5,"clip":true},
 "encoding":{
  "x":{"field":"i","type":"quantitative","title":null},
  "y":{"field":"p","type":"quantitative","title":null},
  "detail":{"field":"ln","type":"nominal"}}},
{"data":{"name":"chanM"},"mark":{"type":"line","color":"#00ff00","strokeWidth":1,"strokeDash":[4,3],"clip":true},
 "encoding":{
  "x":{"field":"i","type":"quantitative","title":null},
  "y":{"field":"p","type":"quantitative","title":null}}},
{"data":{"name":"sep"},"mark":{"type":"rule","color":"#000000","strokeWidth":1,"strokeDash":[3,3]},
 "encoding":{"x":{"field":"i","type":"quantitative","title":null}}},
{"data":{"name":"tags"},"mark":{"type":"tick","orient":"horizontal","size":37,"thickness":13,"opacity":1},
 "encoding":{
  "x":{"datum":368.75,"type":"quantitative","title":null},
  "y":{"field":"p","type":"quantitative","title":null},
  "fill":{"field":"k","type":"nominal","scale":{"domain":["r","ask","bid"],"range":["#ff0000","#ff4500","#000000"]},"legend":null}}},
{"data":{"name":"tags"},"mark":{"type":"text","color":"#ffffff","font":"Liberation Sans","fontSize":10,"align":"center","baseline":"middle"},
 "encoding":{
  "x":{"datum":368.75,"type":"quantitative","title":null},
  "y":{"field":"p","type":"quantitative","title":null},
  "text":{"field":"t","type":"nominal"}}}
]
},
{
"width":1459,"height":96,
"encoding":{
  "x":{"field":"i","type":"quantitative","title":null,"scale":{"domain":[-0.875,363.875],"nice":false,"zero":false},"axis":{"values":[0,8,16,24,32,40,48,56,64,72,80,88,96,104,112,120,128,136,144,152,160,168,176,184,192,200,208,216,224,232,240,248,256,264,272,280,288,296,304,312,320,328,336,344,352,360],"grid":true,"gridColor":"#c0c0c0","gridDash":[3,3],"domain":false,"ticks":false,"labelAlign":"left","labelBaseline":"top","labelPadding":2,"labelFlush":false,"labelOverlap":false,"labelExpr":"datum.value==40?'24 Mar 11:55':datum.value==56?'24 Mar 13:15':datum.value==72?'24 Mar 14:35':datum.value==88?'24 Mar 15:55':datum.value==104?'24 Mar 17:15':datum.value==120?'24 Mar 18:35':datum.value==136?'24 Mar 19:55':datum.value==152?'24 Mar 21:15':datum.value==168?'24 Mar 22:35':datum.value==184?'25 Mar 00:00':datum.value==200?'25 Mar 01:20':datum.value==216?'25 Mar 02:40':datum.value==232?'25 Mar 04:00':datum.value==248?'25 Mar 05:20':datum.value==264?'25 Mar 06:40':''","title":null}}
},
"layer":[
{"data":{"name":"candles"},"mark":{"type":"bar","size":3,"color":"#c0c0c0"},
 "encoding":{
  "y":{"field":"m","type":"quantitative","title":null,"scale":{"domain":[-0.00089,0.00072],"nice":false,"zero":false},"axis":{"orient":"right","values":[-0.00089,0,0.00072],"labelExpr":"datum.value==0?'0.00':format(datum.value,'.5f')","labelFlush":true,"labelFontSize":9,"grid":true,"gridColor":"#c0c0c0","gridDash":[3,3],"tickSize":2,"tickColor":"#000000","domainColor":"#000000","labelPadding":1,"title":null}},
  "y2":{"datum":0}}},
{"data":{"name":"sig"},"mark":{"type":"line","color":"#ff0000","strokeWidth":1,"interpolate":"monotone","clip":true},
 "encoding":{
  "y":{"field":"s","type":"quantitative","title":null}}},
{"data":{"name":"sep"},"mark":{"type":"rule","color":"#000000","strokeWidth":1,"strokeDash":[3,3]},
 "encoding":{}},
{"data":{"name":"candles"},"transform":[{"filter":"datum.i == 44"}],"mark":{"type":"rect","color":"#484848"},
 "encoding":{
  "x2":{"datum":-0.875},
  "y":{"datum":-0.00037,"type":"quantitative","title":null},
  "y2":{"datum":-0.00114}}},
{"data":{"name":"candles"},"transform":[{"filter":"datum.i == 12"}],"mark":{"type":"text","color":"#eeeeee","font":"Open Sans","fontSize":24,"align":"left","baseline":"middle"},
 "encoding":{
  "y":{"datum":-0.00061,"type":"quantitative","title":null},
  "text":{"value":"instaforex"}}},
{"data":{"name":"candles"},"transform":[{"filter":"datum.i == 12"}],"mark":{"type":"text","color":"#dddddd","font":"Open Sans","fontSize":10.5,"align":"left","baseline":"middle"},
 "encoding":{
  "y":{"datum":-0.00097,"type":"quantitative","title":null},
  "text":{"value":"Instant Forex Trading"}}},
{"data":{"name":"candles"},"transform":[{"filter":"datum.i == 6"}],"mark":{"type":"text","color":"#eeeeee","font":"DejaVu Sans","fontSize":34,"align":"center","baseline":"middle"},
 "encoding":{
  "y":{"datum":-0.00075,"type":"quantitative","title":null},
  "text":{"value":"⚙"}}}
]
}
]
}
